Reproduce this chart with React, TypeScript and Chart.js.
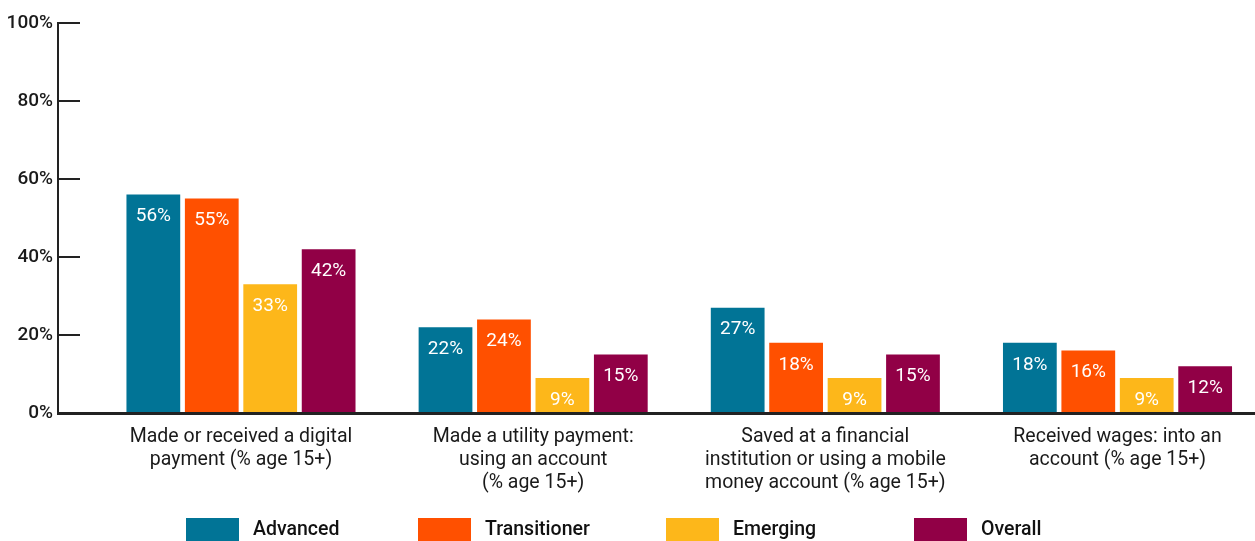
import React, { useEffect, useRef } from 'react';
import { Chart, registerables } from 'chart.js';

Chart.register(...registerables);

const categories: string[][] = [
  ['Made or received a digital', 'payment (% age 15+)'],
  ['Made a utility payment:', 'using an account', '(% age 15+)'],
  ['Saved at a financial', 'institution or using a mobile', 'money account (% age 15+)'],
  ['Received wages: into an', 'account (% age 15+)'],
];
const seriesNames = ['Advanced', 'Transitioner', 'Emerging', 'Overall'];
const advanced = [56, 22, 27, 18];
const transitioner = [55, 24, 18, 16];
const emerging = [33, 9, 9, 9];
const overall = [42, 15, 15, 12];
const seriesValues = [advanced, transitioner, emerging, overall];
const colors = ['#017496', '#FF5000', '#FDB71A', '#910046'];
const yTicks = [0, 20, 40, 60, 80, 100];

const W = 1255;
const H = 541;
const legendBoxX = [186, 418, 666, 914];

export default function App() {
  const ref = useRef<HTMLCanvasElement | null>(null);

  useEffect(() => {
    const canvas = ref.current;
    if (!canvas) return;
    Chart.defaults.font.family = 'Roboto';

    const valueLabels = {
      id: 'valueLabels',
      afterDatasetsDraw(chart: any) {
        const ctx = chart.ctx;
        ctx.save();
        ctx.fillStyle = '#ffffff';
        ctx.font = '400 19px Roboto';
        ctx.textAlign = 'center';
        ctx.textBaseline = 'middle';
        seriesValues.forEach((vals, k) => {
          const meta = chart.getDatasetMeta(k);
          meta.data.forEach((bar: any, i: number) => {
            ctx.fillText(vals[i] + '%', bar.x, bar.y + 22);
          });
        });
        ctx.restore();
      },
    };

    const customLegend = {
      id: 'customLegend',
      afterDraw(chart: any) {
        const ctx = chart.ctx;
        ctx.save();
        ctx.font = '500 19.5px Roboto';
        ctx.textAlign = 'left';
        ctx.textBaseline = 'middle';
        seriesNames.forEach((name, k) => {
          const x = legendBoxX[k];
          ctx.fillStyle = colors[k];
          ctx.fillRect(x, 518, 53, 24);
          ctx.fillStyle = '#111111';
          ctx.fillText(name, x + 67, 530);
        });
        ctx.restore();
      },
    };

    const chart = new Chart(canvas, {
      type: 'bar',
      data: {
        datasets: seriesNames.map((name, k) => ({
          label: name,
          data: seriesValues[k].map((v, i) => ({ x: i, y: v })),
          backgroundColor: colors[k],
          categoryPercentage: 0.8,
          barPercentage: 0.92,
        })),
      },
      options: {
        animation: false,
        responsive: false,
        devicePixelRatio: 1,
        layout: { padding: { top: 23, left: 0, right: 0, bottom: 0 } },
        plugins: {
          legend: { display: false },
          tooltip: { enabled: false },
        },
        scales: {
          x: {
            type: 'linear',
            offset: false,
            min: -0.6263,
            max: 3.4706,
            grid: { display: false, drawTicks: false, offset: false },
            border: { display: true, color: '#222222', width: 3 },
            ticks: {
              autoSkip: false,
              maxRotation: 0,
              minRotation: 0,
              padding: 12,
              color: '#1a1a1a',
              font: { family: 'Roboto', size: 19.5, lineHeight: 1.2 },
              callback: (v: any) => categories[v as number],
            },
            afterBuildTicks: (s: any) => {
              s.ticks = categories.map((_, i) => ({ value: i }));
            },
            afterFit: (s: any) => {
              s.height = 128;
            },
          },
          y: {
            min: 0,
            max: 100,
            grid: { drawOnChartArea: false, tickLength: -22, color: '#222222', lineWidth: 2 },
            border: { display: true, color: '#222222', width: 2 },
            ticks: {
              padding: 27,
              color: '#1a1a1a',
              font: { family: 'Roboto', size: 19, weight: '500' },
              callback: (v: any) => v + '%',
            },
            afterBuildTicks: (s: any) => {
              s.ticks = yTicks.map((v) => ({ value: v }));
            },
            afterFit: (s: any) => {
              s.width = 58;
              s.paddingTop = 0;
              s.paddingBottom = 0;
            },
          },
        },
      } as any,
      plugins: [valueLabels, customLegend],
    });

    return () => chart.destroy();
  }, []);

  return (
    <div style={{ position: 'absolute', left: 0, top: 0, width: W, height: H, background: '#fff' }}>
      <canvas ref={ref} width={W} height={H} style={{ display: 'block', width: W, height: H }} />
    </div>
  );
}
